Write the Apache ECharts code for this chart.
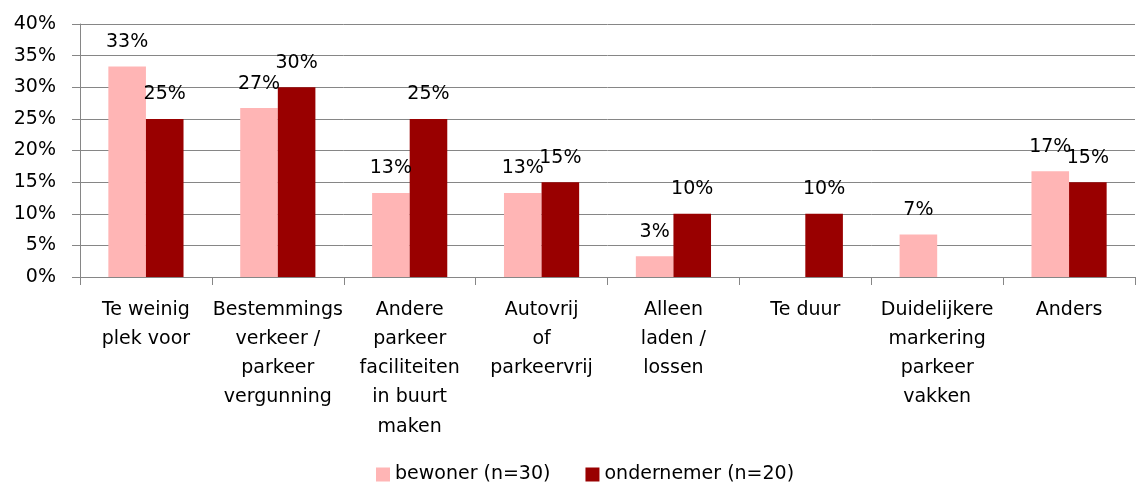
<!DOCTYPE html>
<html>
<head>
<meta charset="utf-8">
<script src="https://cdn.jsdelivr.net/npm/echarts@6/dist/echarts.min.js"></script>
<style>
html,body{margin:0;padding:0;background:#fff;}
#chart{width:1136px;height:484px;}
</style>
</head>
<body>
<div id="chart"></div>
<script>
const categories = [
  "Te weinig\nplek voor",
  "Bestemmings\nverkeer /\nparkeer\nvergunning",
  "Andere\nparkeer\nfaciliteiten\nin buurt\nmaken",
  "Autovrij\nof\nparkeervrij",
  "Alleen\nladen /\nlossen",
  "Te duur",
  "Duidelijkere\nmarkering\nparkeer\nvakken",
  "Anders"
];
const seriesNames = ["bewoner (n=30)", "ondernemer (n=20)"];
const bewoner = [33.3, 26.7, 13.3, 13.3, 3.3, 0, 6.7, 16.7];
const ondernemer = [25, 30, 25, 15, 10, 10, 0, 15];
const yTicks = [0, 5, 10, 15, 20, 25, 30, 35, 40];

const FONT = "DejaVu Sans";
const FS = 19;
const labelCfg = {
  show: true,
  position: "top",
  distance: 15,
  color: "#000",
  fontFamily: FONT,
  fontSize: FS,
  formatter: p => p.value ? Math.round(p.value) + "%" : ""
};

const chart = echarts.init(document.getElementById("chart"));
chart.setOption({
  animation: false,
  textStyle: { fontFamily: FONT },
  grid: { left: 80, right: 1, top: 24, bottom: 207 },
  legend: {
    left: 376,
    top: 465,
    padding: 0,
    itemWidth: 14,
    itemHeight: 14,
    itemGap: 35,
    icon: "rect",
    textStyle: { fontFamily: FONT, fontSize: FS, color: "#000" },
    data: seriesNames
  },
  xAxis: {
    type: "category",
    data: categories,
    axisLine: { lineStyle: { color: "#868686", width: 1 } },
    axisTick: { show: true, length: 8, interval: 0, alignWithLabel: false, lineStyle: { color: "#868686" } },
    axisLabel: { interval: 0, margin: 18, color: "#000", fontFamily: FONT, fontSize: FS, lineHeight: 29.3 }
  },
  yAxis: {
    type: "value",
    min: yTicks[0],
    max: yTicks[yTicks.length - 1],
    interval: 5,
    axisLine: { show: true, lineStyle: { color: "#868686", width: 1 } },
    axisTick: { show: true, length: 8, lineStyle: { color: "#868686" } },
    splitLine: { lineStyle: { color: "#868686", width: 1 } },
    axisLabel: { margin: 24, color: "#000", fontFamily: FONT, fontSize: FS, formatter: "{value}%" }
  },
  series: [
    {
      name: seriesNames[0],
      type: "bar",
      data: bewoner,
      barGap: "0%",
      barCategoryGap: "43%",
      itemStyle: { color: "#FFB5B5" },
      label: labelCfg
    },
    {
      name: seriesNames[1],
      type: "bar",
      data: ondernemer,
      barGap: "0%",
      barCategoryGap: "43%",
      itemStyle: { color: "#990000" },
      label: labelCfg
    }
  ]
});
</script>
</body>
</html>
